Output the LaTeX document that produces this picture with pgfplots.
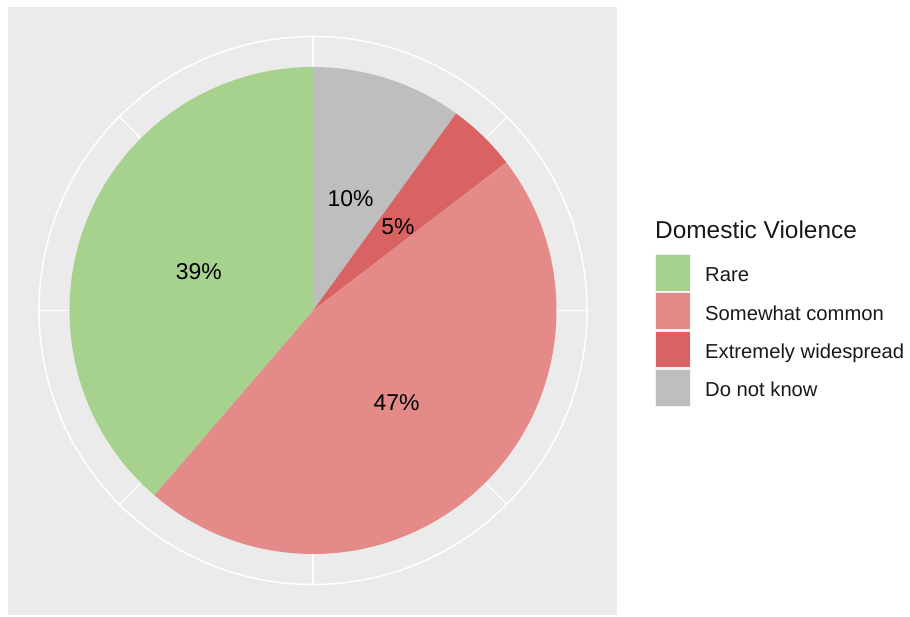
\documentclass[border=0pt]{standalone}
\usepackage{pgfplots}
\pgfplotsset{compat=1.18}
\usepackage{pgfplotstable}
\usepackage{fontspec}
\setmainfont{Liberation Sans}
\definecolor{cRare}{HTML}{A6D28E}
\definecolor{cSome}{HTML}{E48B8A}
\definecolor{cExt}{HTML}{D96363}
\definecolor{cDK}{HTML}{BEBEBE}
\definecolor{panel}{HTML}{EBEBEB}
\definecolor{keybg}{HTML}{F2F2F2}

% share of answers, percent (clockwise from top: Do not know, Extremely, Somewhat, Rare)
\pgfplotstableread{
cat value
DoNotKnow 10.0
Extremely 4.6
Somewhat 46.7
Rare 38.7
}\piedata

\begin{document}
\begin{tikzpicture}
\pgfplotstablegetelem{0}{value}\of\piedata \let\vA\pgfplotsretval
\pgfplotstablegetelem{1}{value}\of\piedata \let\vB\pgfplotsretval
\pgfplotstablegetelem{2}{value}\of\piedata \let\vC\pgfplotsretval
\pgfplotstablegetelem{3}{value}\of\piedata \let\vD\pgfplotsretval
\pgfmathsetmacro\tot{\vA+\vB+\vC+\vD}
\pgfmathsetmacro\k{360/\tot}
\pgfmathsetmacro\aA{90}
\pgfmathsetmacro\aB{90-\k*\vA}
\pgfmathsetmacro\aC{90-\k*(\vA+\vB)}
\pgfmathsetmacro\aD{90-\k*(\vA+\vB+\vC)}
\pgfmathsetmacro\aE{-270}
\pgfmathsetmacro\mA{(\aA+\aB)/2}
\pgfmathsetmacro\mB{(\aB+\aC)/2}
\pgfmathsetmacro\mC{(\aC+\aD)/2}
\pgfmathsetmacro\mD{(\aD+\aE)/2}
\def\R{243.5}
\def\Rout{274}
\def\dy{-3.5}
\begin{axis}[x=1bp, y=1bp, xmin=-313, xmax=597, ymin=-306.5, ymax=310.5,
  hide axis, clip=false]
\fill[white] (axis cs:-313,-306.5) rectangle (axis cs:597,310.5);
\fill[panel] (axis cs:-305,-304.5) rectangle (axis cs:304,303.5);
% grid
\draw[white, line width=1.5bp] (axis cs:0,0) circle[radius=\Rout bp];
\pgfplotsinvokeforeach{0,45,90,135,180,225,270,315}{
  \draw[white, line width=1.3bp] (axis cs:0,0) -- (axis cs:{\Rout*cos(#1)},{\Rout*sin(#1)});
}
% slices
\fill[cDK] (axis cs:0,0) -- (axis cs:{\R*cos(\aA)},{\R*sin(\aA)}) arc[start angle=\aA, end angle=\aB, radius=\R bp] -- cycle;
\fill[cExt] (axis cs:0,0) -- (axis cs:{\R*cos(\aB)},{\R*sin(\aB)}) arc[start angle=\aB, end angle=\aC, radius=\R bp] -- cycle;
\fill[cSome] (axis cs:0,0) -- (axis cs:{\R*cos(\aC)},{\R*sin(\aC)}) arc[start angle=\aC, end angle=\aD, radius=\R bp] -- cycle;
\fill[cRare] (axis cs:0,0) -- (axis cs:{\R*cos(\aD)},{\R*sin(\aD)}) arc[start angle=\aD, end angle=\aE, radius=\R bp] -- cycle;
% labels
\node[font=\fontsize{23}{25}\selectfont] at (axis cs:{0.5*\R*cos(\mA)},{0.5*\R*sin(\mA)+\dy}) {10\%};
\node[font=\fontsize{23}{25}\selectfont] at (axis cs:{0.5*\R*cos(\mB)},{0.5*\R*sin(\mB)+\dy}) {5\%};
\node[font=\fontsize{23}{25}\selectfont] at (axis cs:{0.5*\R*cos(\mC)},{0.5*\R*sin(\mC)+\dy}) {47\%};
\node[font=\fontsize{23}{25}\selectfont] at (axis cs:{0.5*\R*cos(\mD)},{0.5*\R*sin(\mD)+\dy}) {39\%};
% legend
\node[anchor=base west, inner sep=0pt, font=\fontsize{24.5}{26}\selectfont, text=black!90] at (axis cs:342,71.5) {Domestic Violence};
\fill[keybg] (axis cs:342,18.5) rectangle (axis cs:378,56.5);
\fill[cRare] (axis cs:343,19.7) rectangle (axis cs:377,55.3);
\node[anchor=base west, inner sep=0pt, font=\fontsize{20.3}{22}\selectfont, text=black!90] at (axis cs:392,28.5) {Rare};
\fill[keybg] (axis cs:342,-19.8) rectangle (axis cs:378,18.2);
\fill[cSome] (axis cs:343,-18.6) rectangle (axis cs:377,17.0);
\node[anchor=base west, inner sep=0pt, font=\fontsize{20.3}{22}\selectfont, text=black!90] at (axis cs:392,-9.8) {Somewhat common};
\fill[keybg] (axis cs:342,-58.1) rectangle (axis cs:378,-20.1);
\fill[cExt] (axis cs:343,-56.9) rectangle (axis cs:377,-21.3);
\node[anchor=base west, inner sep=0pt, font=\fontsize{20.3}{22}\selectfont, text=black!90] at (axis cs:392,-48.1) {Extremely widespread};
\fill[keybg] (axis cs:342,-96.4) rectangle (axis cs:378,-58.4);
\fill[cDK] (axis cs:343,-95.2) rectangle (axis cs:377,-59.6);
\node[anchor=base west, inner sep=0pt, font=\fontsize{20.3}{22}\selectfont, text=black!90] at (axis cs:392,-86.4) {Do not know};
\end{axis}
\end{tikzpicture}
\end{document}
